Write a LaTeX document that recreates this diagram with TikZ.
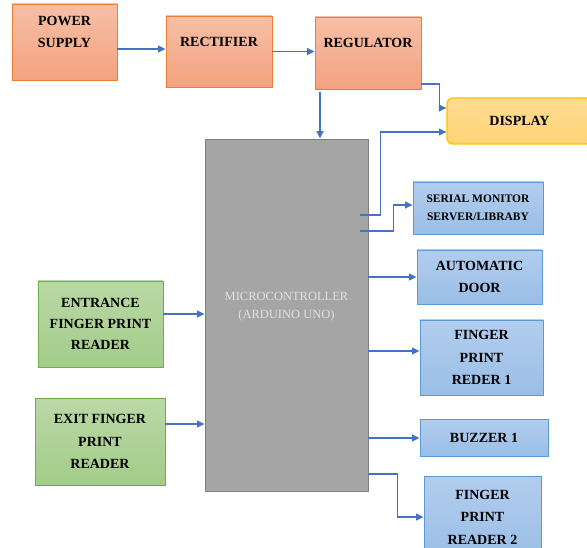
\documentclass[tikz,border=0pt]{standalone}
\usepackage{fontspec}
\setmainfont{Liberation Serif}
\usetikzlibrary{arrows.meta, positioning}
\usepackage{xcolor}
\definecolor{orgtop}{RGB}{247,191,165}
\definecolor{orgbot}{RGB}{243,162,128}
\definecolor{orgline}{RGB}{237,125,49}
\definecolor{blutop}{RGB}{178,205,237}
\definecolor{blubot}{RGB}{154,190,230}
\definecolor{bluline}{RGB}{91,155,213}
\definecolor{grntop}{RGB}{185,216,166}
\definecolor{grnbot}{RGB}{163,204,136}
\definecolor{grnline}{RGB}{112,173,71}
\definecolor{dsptop}{RGB}{255,220,145}
\definecolor{dspbot}{RGB}{255,212,120}
\definecolor{dspline}{RGB}{255,192,0}
\definecolor{mcufill}{RGB}{165,165,165}
\definecolor{mculine}{RGB}{128,128,128}
\definecolor{wire}{RGB}{68,114,196}

\begin{document}
\begin{tikzpicture}[
    x=1pt, y=-1pt,
    box/.style={draw, line width=0.9pt, align=center, inner sep=2pt,
        font=\fontsize{14}{22.5}\selectfont\bfseries},
    pwrbox/.style={box, draw=orgline, top color=orgtop, bottom color=orgbot, text depth=20pt},
    outbox/.style={box, draw=bluline, top color=blutop, bottom color=blubot},
    inbox/.style={box, draw=grnline, top color=grntop, bottom color=grnbot},
    arr/.style={->, draw=wire, line width=1.1pt},
    >={Triangle[length=2.6mm, width=2.4mm]}
]
\useasboundingbox (0,0) rectangle (587,548);

% power chain
\node[pwrbox, minimum width=105pt, minimum height=76pt] (psu) at (64.5,42) {POWER\\SUPPLY};
\node[pwrbox, minimum width=106pt, minimum height=71pt] (rect) at (219,51.5) {RECTIFIER};
\node[pwrbox, minimum width=106pt, minimum height=72pt] (reg) at (368,53) {REGULATOR};
\node[box, draw=dspline, line width=1.3pt, top color=dsptop, bottom color=dspbot,
    rounded corners=6pt, minimum width=145pt, minimum height=46pt] (disp) at (519.5,121) {DISPLAY};

% controller
\node[draw=mculine, fill=mcufill, line width=0.9pt, minimum width=163pt, minimum height=352pt,
    align=center, text=white!88!black, text depth=20pt, font=\fontsize{12.5}{18}\selectfont] (mcu) at (286.5,315)
    {MICROCONTROLLER\\(ARDUINO UNO)};

% outputs
\node[outbox, minimum width=130pt, minimum height=52pt, font=\fontsize{11.5}{18}\selectfont\bfseries] (serial) at (478,208) {SERIAL MONITOR\\SERVER/LIBRABY};
\node[outbox, minimum width=125pt, minimum height=54pt] (door) at (479.5,277) {AUTOMATIC\\DOOR};
\node[outbox, minimum width=123pt, minimum height=75pt] (fpone) at (481.5,357.5) {FINGER\\PRINT\\REDER 1};
\node[outbox, minimum width=128pt, minimum height=37pt] (buzz) at (484,437.5) {BUZZER 1};
\node[outbox, minimum width=117pt, minimum height=82pt] (fptwo) at (482.5,517) {FINGER\\PRINT\\READER 2};

% inputs
\node[inbox, minimum width=125pt, minimum height=86pt, font=\fontsize{14}{21}\selectfont\bfseries] (entry) at (100.5,324) {ENTRANCE\\FINGER PRINT\\READER};
\node[inbox, minimum width=130pt, minimum height=87pt] (exit) at (100,441.5) {EXIT FINGER\\PRINT\\READER};

% connections
\draw[arr] ([yshift=-7pt]psu.east) -- ([yshift=2.5pt]rect.west);
\draw[arr] (rect.east) -- (rect.east -| reg.west);
\draw[arr] ([yshift=-31pt]reg.east) -- ++(18,0) |- ([yshift=13pt]disp.west);
\coordinate (rtap) at ([xshift=-48pt,yshift=-3pt]reg.south);
\draw[arr] (rtap) -- (rtap |- mcu.north);
\draw[arr] ([xshift=-8pt,yshift=100pt]mcu.east) -- ++(20,0) |- ([yshift=-11pt]disp.west);
\draw[arr] ([xshift=-8pt,yshift=84pt]mcu.east) -- ++(33,0) |- ([yshift=3pt]serial.west);
\draw[arr] (door.west -| mcu.east) -- (door.west);
\draw[arr] ([yshift=-36pt]mcu.east) -- ([yshift=-36pt]mcu.east -| fpone.west);
\draw[arr] ([yshift=-123pt]mcu.east) -- ([yshift=-123pt]mcu.east -| buzz.west);
\draw[arr] ([yshift=-159pt]mcu.east) -- ++(29,0) |- (fptwo.west);
\draw[arr] ([yshift=10pt]entry.east) -- ([yshift=10pt]entry.east -| mcu.west);
\draw[arr] ([yshift=17.5pt]exit.east) -- ([yshift=17.5pt]exit.east -| mcu.west);
\end{tikzpicture}
\end{document}
